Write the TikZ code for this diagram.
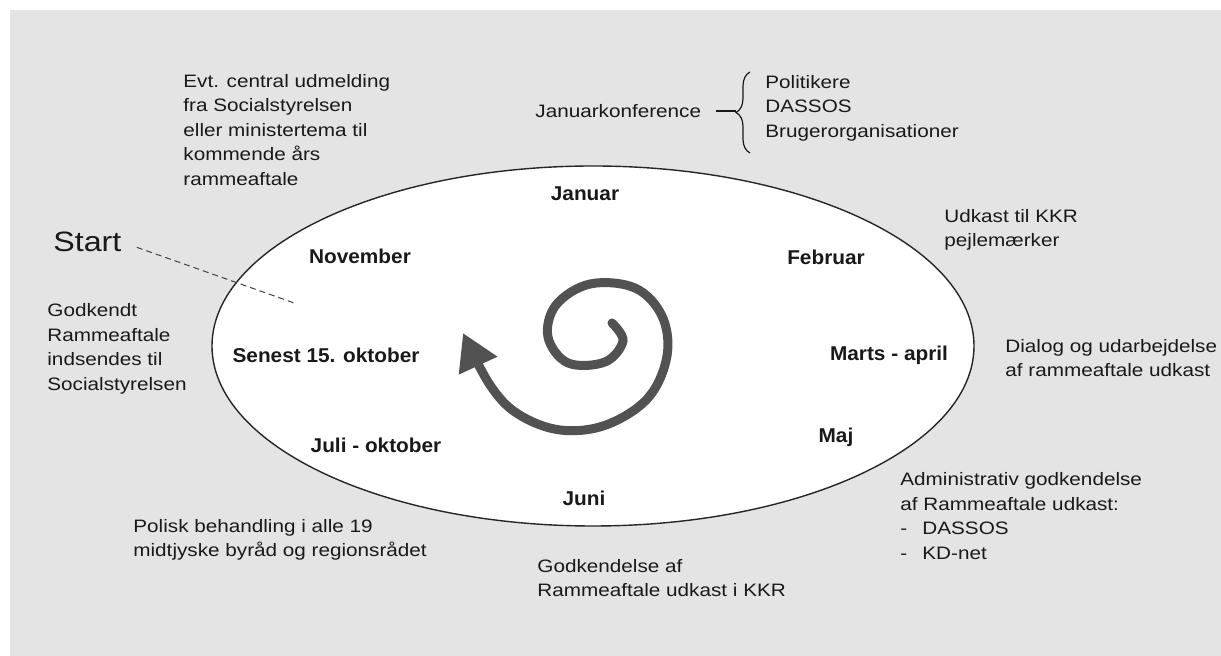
\documentclass[tikz,border=0pt]{standalone}
\usepackage{fontspec}
\setmainfont{Liberation Sans}[FakeStretch=1.15]
\newfontfamily\monthfont{Liberation Sans}[FakeStretch=1.04]
\usepackage{tikz}
\usetikzlibrary{arrows.meta, decorations.pathreplacing}
\definecolor{bggray}{RGB}{228,228,228}
\definecolor{arrowgray}{RGB}{82,82,82}
\definecolor{txt}{RGB}{25,25,25}

\begin{document}
\begin{tikzpicture}[x=0.5pt,y=-0.5pt,
  lbl/.style={inner sep=0pt, anchor=west, align=left, text=txt, font=\fontsize{9}{12.25}\selectfont},
  month/.style={inner sep=0pt, text=txt, font=\monthfont\fontsize{10}{12}\selectfont\bfseries}]
\useasboundingbox (0,0) rectangle (1221,656);
\fill[white] (0,0) rectangle (1221,656);
\fill[bggray] (10,10) rectangle (1221,656);

% the year wheel
\draw[fill=white, line width=0.7pt, draw=black!85] (593,346) ellipse [x radius=190.5pt, y radius=90pt];

% months
\foreach \n/\x/\y/\t in {jan/585/194/Januar, feb/826/257/Februar, marts/889/355/Marts - april,
                         maj/836/437/Maj, juni/584/498/Juni, juli/376/445/Juli - oktober,
                         okt/326/355/Senest 15. oktober, nov/360/256/November}
  \node[month] (\n) at (\x,\y) {\t};

% spiral
\draw[arrowgray, line width=4.5pt, line cap=round, -{Triangle[length=18pt,width=20pt]}]
  plot[smooth, tension=0.6] coordinates {(612,323) (623,341) (605,362) (568,363) (548,337)
  (556,305) (590,284) (635,288) (662,316) (667,356) (648,398) (606,425) (560,430) (518,414)
  (490,385) (463,333)};

% texts around
\node[lbl] (evt) at (183,130) {Evt. central udmelding\\fra Socialstyrelsen\\eller ministertema til\\kommende års\\rammeaftale};
\node[lbl] (jkonf) at (535,111) {Januarkonference};
\node[lbl] (deltagere) at (765,108) {Politikere\\DASSOS\\Brugerorganisationer};
\node[lbl] (udkast) at (944,230) {Udkast til KKR\\pejlemærker};
\node[lbl] (dialog) at (1005,358) {Dialog og udarbejdelse\\af rammeaftale udkast};
\node[lbl] (admin) at (900,516) {Administrativ godkendelse\\af Rammeaftale udkast:\\\makebox[11pt][l]{-}DASSOS\\\makebox[11pt][l]{-}KD-net};
\node[lbl] (kkr) at (537,578) {Godkendelse af\\Rammeaftale udkast i KKR};
\node[lbl] (polisk) at (133,540) {Polisk behandling i alle 19\\midtjyske byråd og regionsrådet};
\node[lbl] (godkendt) at (47,349) {Godkendt\\Rammeaftale\\indsendes til\\Socialstyrelsen};
\node[lbl, font=\fontsize{14}{16}\selectfont] (start) at (53,242) {Start};

% brace and pointer lines
\coordinate (bracetip) at (736,111);
\draw[decorate, decoration={brace, amplitude=7pt}, line width=0.6pt, draw=txt] (750,153) -- (750,72);
\draw[line width=0.6pt, draw=txt, shorten <=7pt] (jkonf.east) -- (bracetip);
\coordinate (startend) at (297,304);
\draw[dash pattern=on 3pt off 2pt, line width=0.5pt, draw=black!75, shorten <=8pt] (start.east) -- (startend);
\end{tikzpicture}
\end{document}
